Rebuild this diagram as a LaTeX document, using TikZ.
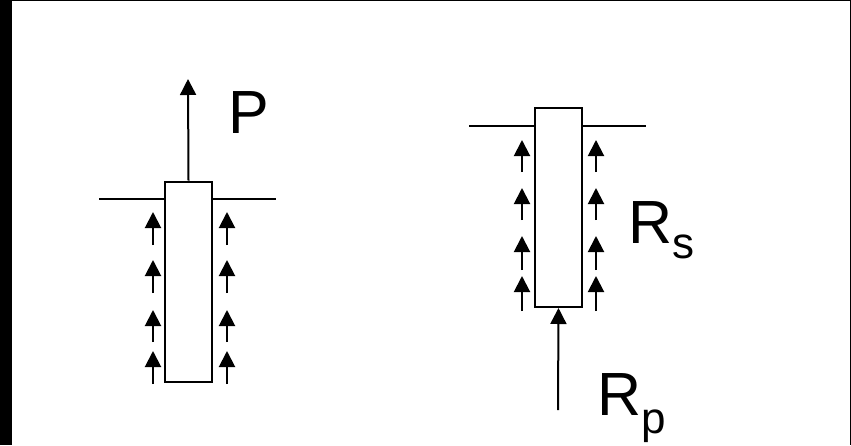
\documentclass[tikz,border=0pt]{standalone}
\usepackage{fontspec}
\setmainfont{Liberation Sans}
\usetikzlibrary{arrows.meta}
\tikzset{
  pile/.style={draw, fill=white, line width=2pt, minimum width=47pt, minimum height=200pt, inner sep=0pt},
  ground/.style={line width=2pt},
  force/.style={line width=2pt, -{Triangle[length=16pt,width=16pt]}},
  big/.style={font=\fontsize{61}{72}\selectfont, inner sep=0pt, anchor=base west},
}
\newcommand{\subtxt}[1]{\raisebox{-15pt}{\fontsize{44}{50}\selectfont #1}}
\begin{document}
\begin{tikzpicture}[x=1pt,y=-1pt]
\useasboundingbox (0,0) rectangle (851,445);
% frame
\fill[black] (0,0) rectangle (12,445);
\draw[line width=1pt] (12,0.5) -- (851,0.5);
\draw[line width=1pt] (850.5,0) -- (850.5,445);

% left pile
\coordinate (g1a) at (99,199);
\coordinate (g1b) at (276,199);
\draw[ground] (g1a) -- (g1b);
\node[pile] (pile1) at (188.5,281.5) {};
\coordinate (ptip) at (188,79);
\draw[force] (pile1.north) -- (ptip);
\node[big] (P) at (228,133) {P};
\foreach \t/\b [count=\i] in {212/245,260/293,310/342,351/384}{
  \coordinate (l1t\i) at (153,\t); \coordinate (l1b\i) at (153,\b);
  \coordinate (r1t\i) at (227,\t); \coordinate (r1b\i) at (227,\b);
  \draw[force] (l1b\i) -- (l1t\i);
  \draw[force] (r1b\i) -- (r1t\i);
}

% right pile
\coordinate (g2a) at (469,126);
\coordinate (g2b) at (646,126);
\draw[ground] (g2a) -- (g2b);
\node[pile, minimum height=199pt] (pile2) at (558.5,207.5) {};
\foreach \t/\b [count=\i] in {140/172,188/220,236/270,276/311}{
  \coordinate (l2t\i) at (522,\t); \coordinate (l2b\i) at (522,\b);
  \coordinate (r2t\i) at (596,\t); \coordinate (r2b\i) at (596,\b);
  \draw[force] (l2b\i) -- (l2t\i);
  \draw[force] (r2b\i) -- (r2t\i);
}
\coordinate (rpb) at (558,410);
\draw[force] (rpb) -- (pile2.south);
\node[big] (Rs) at (628,243) {R\subtxt{s}};
\node[big] (Rp) at (597,415) {R\raisebox{-3pt}{\subtxt{p}}};
\end{tikzpicture}
\end{document}
